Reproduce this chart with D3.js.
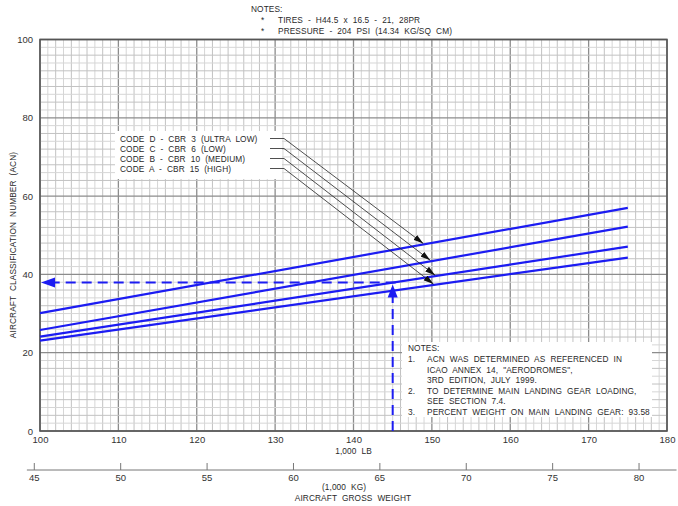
<!DOCTYPE html>
<html>
<head>
<meta charset="utf-8">
<script src="https://cdn.jsdelivr.net/npm/d3@7"></script>
<style>
  body { margin: 0; background: #fff; }
  svg { display: block; }
  text { font-family: "Liberation Sans", Arial, sans-serif; fill: #2a2a2a; }
  .cad { font-size: 8.3px; letter-spacing: 0.1px; word-spacing: 2.6px; }
</style>
</head>
<body>
<script>
// data
var weights = [100, 175];              // 1,000 lb
var codeD = [30.1, 57.0];              // CBR 3
var codeC = [25.8, 52.2];              // CBR 6
var codeB = [24.1, 47.1];              // CBR 10
var codeA = [23.1, 44.3];              // CBR 15
var codeLabels = ["CODE D - CBR 3 (ULTRA LOW)", "CODE C - CBR 6 (LOW)", "CODE B - CBR 10 (MEDIUM)", "CODE A - CBR 15 (HIGH)"];
var leaderTargets = [148.9, 149.8, 150.4, 150.2];   // weight where each leader arrow lands
var lbTicks = [100, 110, 120, 130, 140, 150, 160, 170, 180];
var kgTicks = [45, 50, 55, 60, 65, 70, 75, 80];
var acnTicks = [0, 20, 40, 60, 80, 100];
var exampleWeight = 145, exampleAcn = 37.9;
var topNotes = ["TIRES - H44.5 x 16.5 - 21, 28PR", "PRESSURE - 204 PSI (14.34 KG/SQ CM)"];
var boxNotes = [
  ["1.", "ACN WAS DETERMINED AS REFERENCED IN"],
  ["", "ICAO ANNEX 14, \"AERODROMES\","],
  ["", "3RD EDITION, JULY 1999."],
  ["2.", "TO DETERMINE MAIN LANDING GEAR LOADING,"],
  ["", "SEE SECTION 7.4."],
  ["3.", "PERCENT WEIGHT ON MAIN LANDING GEAR: 93.58"]
];

var LB_PER_KG = 2.20462;
var blue = "#1c1cf2";

var svg = d3.select("body").append("svg")
  .attr("width", 678)
  .attr("height", 506);

var x = d3.scaleLinear().domain([100, 180]).range([40, 667]);
var y = d3.scaleLinear().domain([0, 100]).range([431, 39.5]);
var xKg = d3.scaleLinear().domain([100 / LB_PER_KG, 180 / LB_PER_KG]).range([40, 667]);

var defs = svg.append("defs");
defs.append("marker").attr("id", "blk")
    .attr("viewBox", "0 0 10 6").attr("refX", 10).attr("refY", 3)
    .attr("markerWidth", 10).attr("markerHeight", 6)
    .attr("markerUnits", "userSpaceOnUse").attr("orient", "auto")
  .append("path").attr("d", "M0,0L10,3L0,6Z").attr("fill", "#111");

// grid
var grid = svg.append("g");
d3.range(100, 181, 1).forEach(function(v) {
  var major = v % 10 === 0;
  grid.append("line")
    .attr("x1", x(v)).attr("x2", x(v)).attr("y1", y(0)).attr("y2", y(100))
    .attr("stroke", major ? "#8c8c8c" : (v % 2 === 0 ? "#c2c2c2" : "#d6d6d6"))
    .attr("stroke-width", major ? 1.3 : 1);
});
d3.range(0, 101, 2).forEach(function(v) {
  var major = v % 20 === 0;
  grid.append("line")
    .attr("x1", x(100)).attr("x2", x(180)).attr("y1", y(v)).attr("y2", y(v))
    .attr("stroke", major ? "#8c8c8c" : (v % 4 === 0 ? "#c2c2c2" : "#d6d6d6"))
    .attr("stroke-width", major ? 1.3 : 1);
});
svg.append("rect")
  .attr("x", x(100)).attr("y", y(100))
  .attr("width", x(180) - x(100)).attr("height", y(0) - y(100))
  .attr("fill", "none").attr("stroke", "#555").attr("stroke-width", 1.6);

// axes
var yAxis = svg.append("g")
  .attr("transform", "translate(" + x(100) + ",0)")
  .call(d3.axisLeft(y).tickValues(acnTicks).tickSize(0).tickPadding(7));
yAxis.select(".domain").remove();
yAxis.selectAll("text").style("font-size", "9.5px").style("fill", "#333");

var xAxis = svg.append("g")
  .attr("transform", "translate(0," + y(0) + ")")
  .call(d3.axisBottom(x).tickValues(lbTicks).tickSize(0).tickPadding(5));
xAxis.select(".domain").remove();
xAxis.selectAll("text").style("font-size", "9.5px").style("fill", "#333");

svg.append("line")
  .attr("x1", xKg(44.6)).attr("x2", xKg(82.2)).attr("y1", 470).attr("y2", 470)
  .attr("stroke", "#777").attr("stroke-width", 1);
var kgAxis = svg.append("g")
  .attr("transform", "translate(0,470)")
  .call(d3.axisBottom(xKg).tickValues(kgTicks).tickSizeInner(-7).tickSizeOuter(0).tickPadding(4));
kgAxis.select(".domain").remove();
kgAxis.selectAll("line").attr("stroke", "#777");
kgAxis.selectAll("text").style("font-size", "9.5px").style("fill", "#333");

svg.append("text").attr("class", "cad")
  .attr("x", x(140)).attr("y", 454).attr("text-anchor", "middle").text("1,000 LB");
svg.append("text").attr("class", "cad")
  .attr("x", 344).attr("y", 490).attr("text-anchor", "middle").text("(1,000 KG)");
svg.append("text").attr("class", "cad")
  .attr("x", 353).attr("y", 501).attr("text-anchor", "middle").text("AIRCRAFT GROSS WEIGHT");
svg.append("text").attr("class", "cad")
  .attr("transform", "translate(16,245) rotate(-90)")
  .attr("text-anchor", "middle")
  .text("AIRCRAFT CLASSIFICATION NUMBER (ACN)");

// top notes
svg.append("text").attr("class", "cad").attr("x", 251).attr("y", 12).text("NOTES:");
topNotes.forEach(function(t, i) {
  svg.append("text").attr("class", "cad").attr("x", 261).attr("y", 23 + i * 10.5).text("*");
  svg.append("text").attr("class", "cad").attr("x", 278).attr("y", 23 + i * 10.5).text(t);
});

// ACN lines
var series = [codeD, codeC, codeB, codeA];
var line = d3.line()
  .x(function(d, i) { return x(weights[i]); })
  .y(function(d) { return y(d); });
svg.selectAll(".acn").data(series).enter().append("path")
  .attr("class", "acn")
  .attr("d", line)
  .attr("fill", "none")
  .attr("stroke", blue)
  .attr("stroke-width", 2.2);

// example reading: dashed lines with arrows
var ey = y(exampleAcn), ex = x(exampleWeight);
svg.append("line")
  .attr("x1", ex + 3).attr("x2", x(100) + 12).attr("y1", ey).attr("y2", ey)
  .attr("stroke", blue).attr("stroke-width", 2).attr("stroke-dasharray", "10,6");
svg.append("path")
  .attr("d", "M" + (x(100) + 1) + "," + ey + "L" + (x(100) + 15) + "," + (ey - 5) + "L" + (x(100) + 15) + "," + (ey + 5) + "Z")
  .attr("fill", blue);
svg.append("line")
  .attr("x1", ex).attr("x2", ex).attr("y1", y(0)).attr("y2", ey + 12)
  .attr("stroke", blue).attr("stroke-width", 2).attr("stroke-dasharray", "10,6");
svg.append("path")
  .attr("d", "M" + ex + "," + (ey + 2) + "L" + (ex - 5) + "," + (ey + 15) + "L" + (ex + 5) + "," + (ey + 15) + "Z")
  .attr("fill", blue);

// legend with leader arrows
svg.append("rect").attr("x", 115).attr("y", 131).attr("width", 167).attr("height", 48).attr("fill", "#fff");
codeLabels.forEach(function(t, i) {
  var ty = 141.5 + i * 10;
  svg.append("text").attr("class", "cad").attr("x", 120).attr("y", ty).text(t);
  var s = series[i];
  var w = leaderTargets[i];
  var v = s[0] + (s[1] - s[0]) * (w - weights[0]) / (weights[1] - weights[0]);
  svg.append("path")
    .attr("d", "M270," + (ty - 3) + "L284," + (ty - 3) + "L" + x(w) + "," + (y(v) - 1))
    .attr("fill", "none").attr("stroke", "#222").attr("stroke-width", 0.8)
    .attr("marker-end", "url(#blk)");
});

// notes box
svg.append("rect").attr("x", 402).attr("y", 342).attr("width", 250).attr("height", 75).attr("fill", "#fff");
svg.append("text").attr("class", "cad").attr("x", 408).attr("y", 351).text("NOTES:");
boxNotes.forEach(function(r, i) {
  var ty = 362 + i * 10.5;
  if (r[0]) svg.append("text").attr("class", "cad").attr("x", 408).attr("y", ty).text(r[0]);
  svg.append("text").attr("class", "cad").attr("x", 427).attr("y", ty).text(r[1]);
});
</script>
</body>
</html>
